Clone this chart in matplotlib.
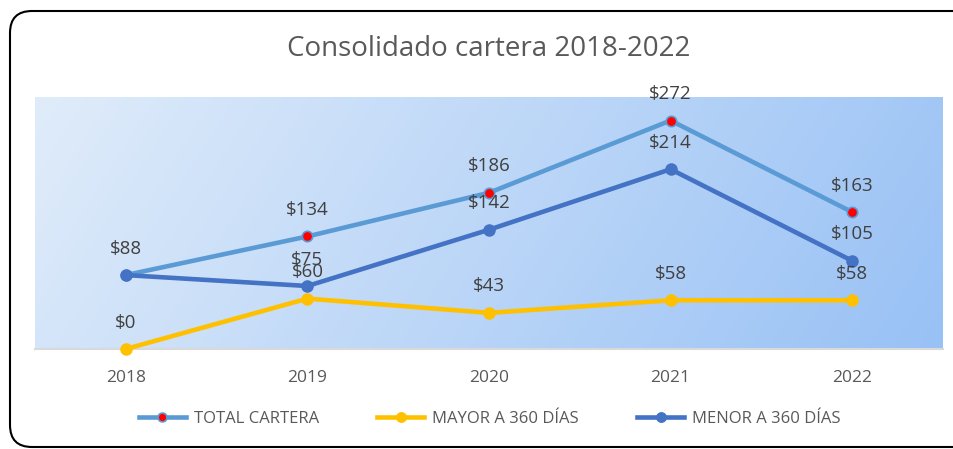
import numpy as np
import matplotlib.pyplot as plt
from matplotlib.patches import FancyBboxPatch
from matplotlib.transforms import IdentityTransform

years = ['2018', '2019', '2020', '2021', '2022']
total_cartera = [88, 134, 186, 272, 163]
mayor_360 = [0, 60, 43, 58, 58]
menor_360 = [88, 75, 142, 214, 105]


def main():
    plt.rcParams['font.family'] = ['Open Sans', 'DejaVu Sans']
    fig = plt.figure(figsize=(9.54, 4.49), dpi=100)
    ax = fig.add_axes([35 / 954, 1 - 349 / 449, 908 / 954, 252 / 449])

    x = np.arange(len(years))
    ymax = 300

    # gradient background, light at top-left, darker at bottom-right
    gx, gy = np.meshgrid(np.linspace(0, 1, 300), np.linspace(0, 1, 100))
    t = np.clip(0.85 * gx + 0.15 * (1 - gy), 0, 1)
    c0 = np.array([224, 236, 250]) / 255
    c1 = np.array([152, 193, 245]) / 255
    img = c0 + (c1 - c0) * t[..., None]
    ax.imshow(img, extent=(-0.5, len(years) - 0.5, 0, ymax), origin='lower',
              aspect='auto', zorder=0)
    ax.set_xlim(-0.5, len(years) - 0.5)
    ax.set_ylim(0, ymax)

    lw = 3.3
    ax.plot(x, total_cartera, color='#5B9BD5', lw=lw, marker='o', ms=7.5,
            mfc='#FF0000', mec='#5B9BD5', mew=1.2, label='TOTAL CARTERA', zorder=3)
    ax.plot(x, mayor_360, color='#FFC000', lw=lw, marker='o', ms=8,
            mfc='#FFC000', mec='#FFC000', label='MAYOR A 360 DÍAS', zorder=4, clip_on=False)
    ax.plot(x, menor_360, color='#4472C4', lw=lw, marker='o', ms=8,
            mfc='#4472C4', mec='#4472C4', label='MENOR A 360 DÍAS', zorder=5)

    drawn = set()
    for series in (total_cartera, mayor_360, menor_360):
        for xi, v in zip(x, series):
            if (xi, v) in drawn:
                continue  # same label on the same spot, draw it once
            drawn.add((xi, v))
            ax.annotate(f'${v}', (xi, v), xytext=(0, 19), textcoords='offset points',
                        ha='center', va='center', fontsize=13.5, color='#404040', zorder=6,
                        annotation_clip=False)

    for s in ('top', 'right', 'left'):
        ax.spines[s].set_visible(False)
    ax.spines['bottom'].set_color('#D9D9D9')
    ax.spines['bottom'].set_linewidth(1.5)
    ax.set_yticks([])
    ax.set_xticks(x)
    ax.set_xticklabels(years, fontsize=12.5, color='#595959')
    ax.tick_params(axis='x', length=0, pad=15)

    fig.text(489 / 954, 1 - 49 / 449, 'Consolidado cartera 2018-2022', ha='center', va='center',
             fontsize=20, color='#595959')

    fig.legend(loc='center', bbox_to_anchor=(490 / 954, 1 - 419 / 449), ncol=3, frameon=False,
               fontsize=12, labelcolor='#595959', handlelength=2.8, columnspacing=3.5,
               handletextpad=0.5, markerscale=0.85)

    border = FancyBboxPatch((10, 2), 990, 436, boxstyle='round,pad=0,rounding_size=22',
                            transform=IdentityTransform(), fill=False, edgecolor='#000000',
                            linewidth=1.5, clip_on=False)
    fig.patches.append(border)

    fig.savefig('out.png', dpi=100)


if __name__ == "__main__":
    main()
